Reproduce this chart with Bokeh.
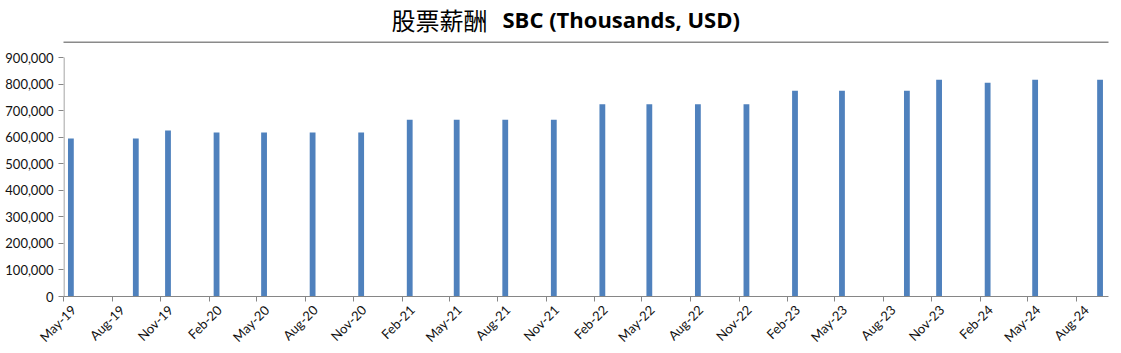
import pandas as pd
from bokeh.plotting import figure
from bokeh.models import (Range1d, FixedTicker, NumeralTickFormatter, Label,
                          BoxAnnotation, ColumnDataSource, DatetimeAxis)
from bokeh.embed import file_html
from bokeh.resources import INLINE
from math import pi

# ---- data ----
bar_dates = ["2019-05-15", "2019-09-15", "2019-11-15", "2020-02-15", "2020-05-15",
             "2020-08-15", "2020-11-15", "2021-02-15", "2021-05-15", "2021-08-15",
             "2021-11-15", "2022-02-15", "2022-05-15", "2022-08-15", "2022-11-15",
             "2023-02-15", "2023-05-15", "2023-09-15", "2023-11-15", "2024-02-15",
             "2024-05-15", "2024-09-15"]
sbc_values = [595000, 595000, 625000, 618000, 618000,
              618000, 618000, 666000, 666000, 666000,
              666000, 724000, 724000, 724000, 724000,
              775000, 775000, 775000, 816000, 805000,
              816000, 816000]
tick_labels = ["May-19", "Aug-19", "Nov-19", "Feb-20", "May-20", "Aug-20", "Nov-20",
               "Feb-21", "May-21", "Aug-21", "Nov-21", "Feb-22", "May-22", "Aug-22",
               "Nov-22", "Feb-23", "May-23", "Aug-23", "Nov-23", "Feb-24", "May-24",
               "Aug-24"]
y_ticks = [0, 100000, 200000, 300000, 400000, 500000, 600000, 700000, 800000, 900000]
y_max = 900000
title_cn = "股票薪酬"
title_en = "SBC (Thousands, USD)"

x_start = pd.Timestamp("2019-05-01")
x_end = pd.Timestamp("2024-10-01")

def to_ms(ts):
    return ts.value / 1e6

DAY = 24 * 3600 * 1000
src = ColumnDataSource(dict(x=pd.to_datetime(bar_dates), top=sbc_values))
tick_ms = [to_ms(pd.to_datetime(t, format="%b-%y")) for t in tick_labels]
label_shift = 19 * DAY
label_ms = [t + label_shift for t in tick_ms]

W, H = 1121, 353
BL, BR, BT, BB = 63, 13, 0, 57
FW, FH = W - BL - BR, H - BT - BB
PLOT_H = 239  # pixels from 0 to y_max

p = figure(width=W, height=H, output_backend="svg", toolbar_location=None,
           x_axis_type=None,
           x_range=Range1d(to_ms(x_start), to_ms(x_end)),
           y_range=Range1d(0, y_max * FH / PLOT_H))
p.min_border_left = BL
p.min_border_right = BR
p.min_border_top = BT
p.min_border_bottom = BB
p.outline_line_color = None
p.background_fill_color = "white"
p.border_fill_color = "white"
p.xgrid.visible = False
p.ygrid.visible = False

p.vbar(x="x", top="top", width=11 * DAY, source=src,
       fill_color="#4F81BD", line_color=None)

axis_col = "#868686"
lab_col = "#111111"

# x axis: line + tick marks at month starts
xa = DatetimeAxis(ticker=FixedTicker(ticks=tick_ms))
xa.major_label_overrides = {t: "" for t in tick_ms}
xa.major_label_text_font_size = "1px"
xa.major_label_standoff = 0
xa.axis_line_color = axis_col
xa.major_tick_line_color = axis_col
xa.major_tick_out = 5
xa.major_tick_in = 0
xa.minor_tick_line_color = None
p.add_layout(xa, "below")

# x axis labels (slanted, placed like the spreadsheet chart)
xl = DatetimeAxis(ticker=FixedTicker(ticks=label_ms))
xl.major_label_overrides = {t: l for t, l in zip(label_ms, tick_labels)}
xl.major_label_orientation = pi / 4
xl.major_label_text_font = "Lato"
xl.major_label_text_font_size = "13px"
xl.major_label_text_color = lab_col
xl.major_label_standoff = 0
xl.axis_line_color = None
xl.major_tick_line_color = None
xl.minor_tick_line_color = None
p.add_layout(xl, "below")

ya = p.yaxis[0]
ya.ticker = FixedTicker(ticks=y_ticks)
ya.formatter = NumeralTickFormatter(format="0,0")
ya.axis_line_color = None
ya.major_tick_line_color = axis_col
ya.major_tick_out = 5
ya.major_tick_in = 0
ya.minor_tick_line_color = None
ya.major_label_text_font = "Lato"
ya.major_label_text_font_size = "13px"
ya.major_label_text_color = lab_col

# y axis line from 0 up to the top tick only
p.add_layout(BoxAnnotation(left=0, right=1, bottom=0, top=y_max,
                           left_units="screen", right_units="screen",
                           fill_color=axis_col, fill_alpha=1, line_color=None,
                           level="overlay"))

# separator line under the title
p.add_layout(BoxAnnotation(left=-BL, right=FW + BR, bottom=FH - 42 - 0.5, top=FH - 42 + 1,
                           left_units="screen", right_units="screen",
                           top_units="screen", bottom_units="screen",
                           fill_color="#8a8a8a", fill_alpha=1, line_color=None,
                           level="overlay"))

p.add_layout(Label(x=391 - BL, y=FH - 19, x_units="screen", y_units="screen",
                   text=title_cn, text_font="Noto Sans CJK SC",
                   text_font_size="24px", text_color="black",
                   text_baseline="alphabetic"))
p.add_layout(Label(x=502 - BL, y=FH - 18, x_units="screen", y_units="screen",
                   text=title_en, text_font="Open Sans", text_font_style="bold",
                   text_font_size="22px", text_color="black",
                   text_baseline="alphabetic"))

open("out.html", "w").write(file_html(p, INLINE))
